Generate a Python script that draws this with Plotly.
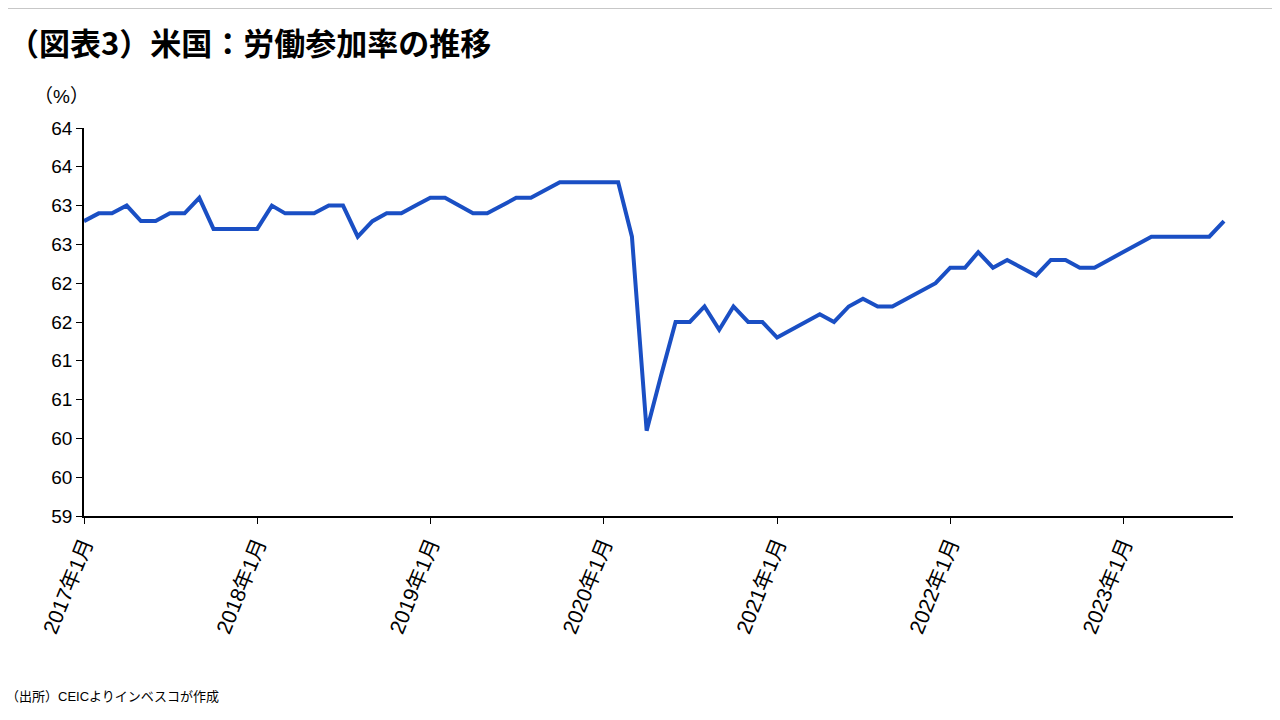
import plotly.graph_objects as go
import pandas as pd

months = pd.date_range("2017-01-01", "2023-08-01", freq="MS")
values = [
 62.8,62.9,62.9,63.0,62.8,62.8,62.9,62.9,63.1,62.7,62.7,62.7,
 62.7,63.0,62.9,62.9,62.9,63.0,63.0,62.6,62.8,62.9,62.9,63.0,
 63.1,63.1,63.0,62.9,62.9,63.0,63.1,63.1,63.2,63.3,63.3,63.3,
 63.3,63.3,62.6,60.1,60.8,61.5,61.5,61.7,61.4,61.7,61.5,61.5,
 61.3,61.4,61.5,61.6,61.5,61.7,61.8,61.7,61.7,61.8,61.9,62.0,
 62.2,62.2,62.4,62.2,62.3,62.2,62.1,62.3,62.3,62.2,62.2,62.3,
 62.4,62.5,62.6,62.6,62.6,62.6,62.6,62.8]
year_ticks = [f"{y}-01-01" for y in range(2017, 2024)]
year_labels = [f"{y}年1月" for y in range(2017, 2024)]
y_ticks = [59 + 0.5*i for i in range(11)]
y_labels = ["59","60","60","61","61","62","62","63","63","64","64"]

font = "Liberation Sans, Noto Sans CJK JP"
fig = go.Figure(go.Scatter(x=months, y=values, mode="lines",
                           line=dict(color="#1a4fc4", width=4)))
fig.update_layout(
    width=1280, height=720, paper_bgcolor="white", plot_bgcolor="white",
    margin=dict(l=76, r=55, t=120, b=212), showlegend=False,
    font=dict(family=font, size=19, color="black"),
    title=dict(text="<b>（図表3）米国：労働参加率の推移</b>", x=0.0, y=0.965,
               xanchor="left", font=dict(size=31, family="Noto Sans CJK JP")),
    xaxis=dict(range=["2017-01-01", "2023-08-20"], tickvals=year_ticks, ticktext=year_labels,
               tickangle=-68, ticks="outside", ticklen=6, tickcolor="black",
               showline=True, linecolor="black", linewidth=1.5, showgrid=False,
               tickfont=dict(size=21)),
    yaxis=dict(range=[59, 64], tickvals=y_ticks, ticktext=y_labels,
               ticks="outside", ticklen=6, tickcolor="black",
               showline=True, linecolor="black", linewidth=1.5, showgrid=False,
               tickfont=dict(size=19)),
)
fig.add_annotation(text="（%）", xref="paper", yref="paper", x=-0.045, y=1.05,
                   xanchor="left", yanchor="bottom", showarrow=False, font=dict(size=19))
fig.add_annotation(text="（出所）CEICよりインベスコが作成", xref="paper", yref="paper",
                   x=-0.07, y=-0.44, xanchor="left", yanchor="top", showarrow=False,
                   font=dict(size=13))
fig.add_shape(type="line", xref="paper", yref="paper", x0=-0.08, x1=1.05, y0=1.31, y1=1.31,
              line=dict(color="black", width=1))
fig.write_html("out.html")
